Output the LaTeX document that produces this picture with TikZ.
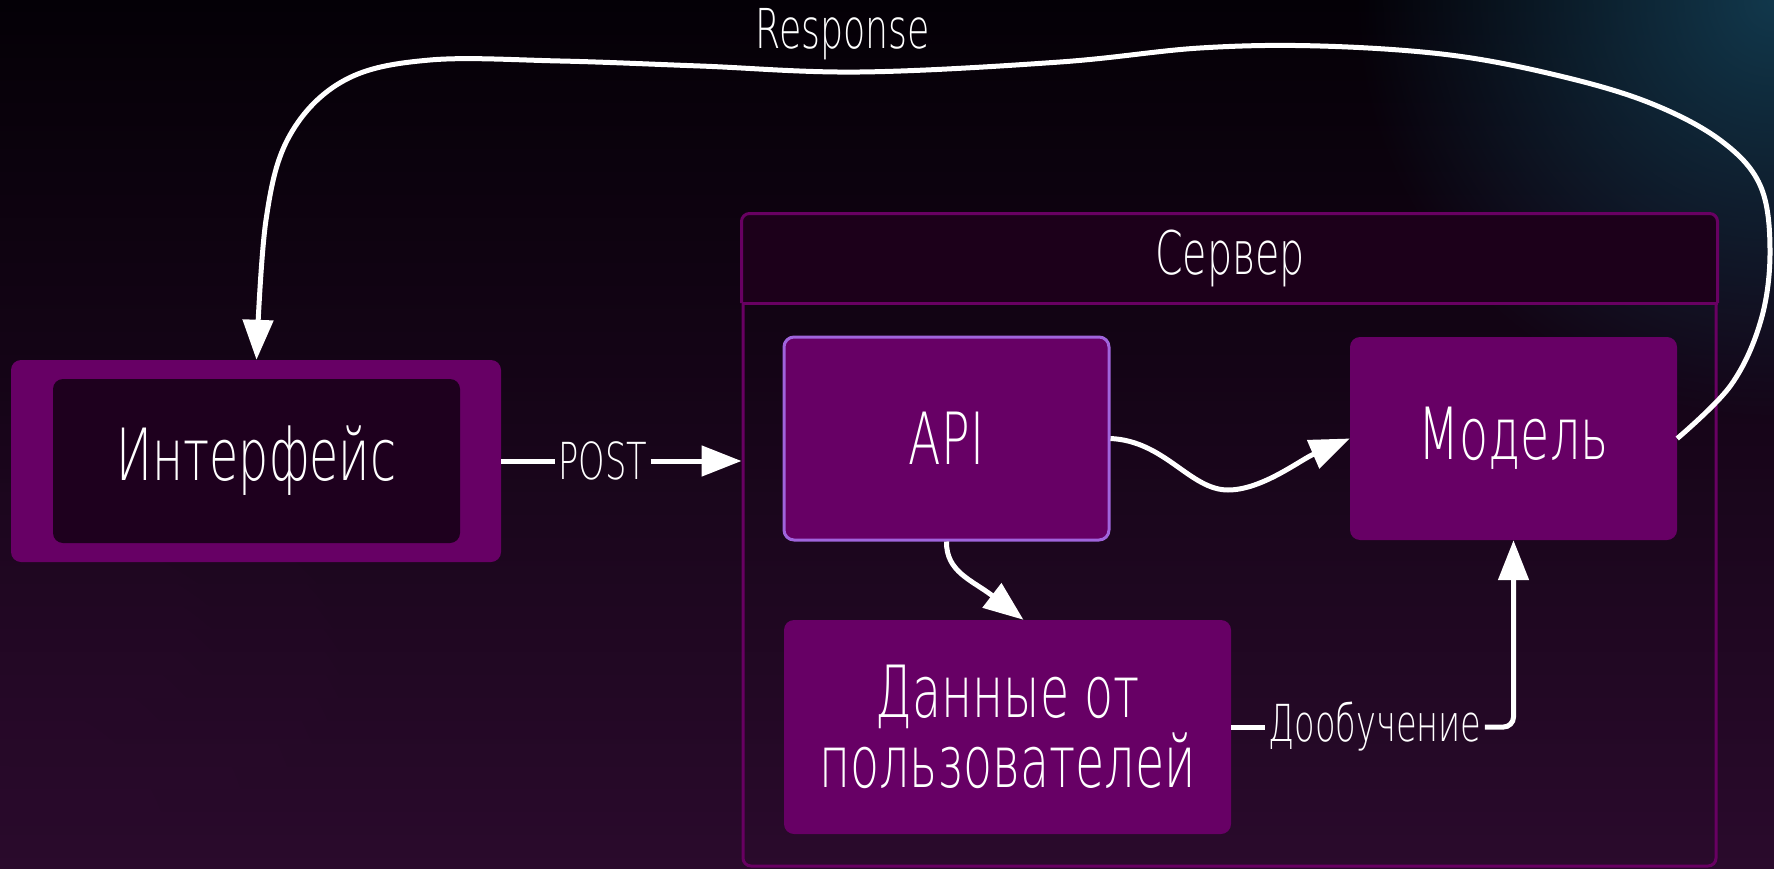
\documentclass[tikz,border=0pt]{standalone}
\usepackage{fontspec}
\IfFontExistsTF{DejaVuSans-ExtraLight.ttf}
 {\setmainfont{DejaVuSans-ExtraLight.ttf}[FakeStretch=0.66]}
 {\setmainfont{DejaVu Sans}[FakeStretch=0.66]}
\usetikzlibrary{arrows.meta,calc,fadings}
\tikzfading[name=softglow, inner color=transparent!0, outer color=transparent!100]
\definecolor{boxfill}{RGB}{103,0,101}
\definecolor{innerdark}{RGB}{30,0,30}
\definecolor{apiborder}{RGB}{160,100,220}
\definecolor{srvstroke}{RGB}{104,0,98}
\definecolor{bandfill}{RGB}{28,0,26}
\definecolor{bgtop}{RGB}{4,0,6}
\definecolor{bgbot}{RGB}{42,10,44}
\definecolor{glow}{RGB}{18,56,76}
\begin{document}
\begin{tikzpicture}[x=1pt,y=-1pt,
  box/.style={fill=boxfill, rounded corners=10pt, text=white, align=center,
              font=\fontsize{72}{70}\selectfont, inner sep=0pt},
  ln/.style={draw=white, line width=5pt},
  arr/.style={ln, -{Triangle[length=40pt,width=30pt]}},
  lbl/.style={text=white, inner sep=3pt, font=\fontsize{51}{54}\selectfont}]
\useasboundingbox (0,0) rectangle (1774,869);
% background
\begin{scope}
\clip (0,0) rectangle (1774,869);
\shade[top color=bgtop, bottom color=bgbot] (0,0) rectangle (1774,869);
\fill[glow, path fading=softglow] (1774,0) circle (420);
\fill[bgbot, opacity=0.5, path fading=softglow] (0,869) circle (500);
\end{scope}

% interface
\node[box, minimum width=490pt, minimum height=202pt] (ifaceout) at (256,461) {};
\node[fill=innerdark, rounded corners=10pt, minimum width=407pt, minimum height=164pt,
      text=white, font=\fontsize{72}{76}\selectfont] (iface) at (256.5,461) {Интерфейс};

% server container
\node[draw=srvstroke, line width=3pt, rounded corners=8pt, minimum width=973pt,
      minimum height=651pt, inner sep=0pt] (server) at (1229.5,540.5) {};
\fill[bandfill] (server.west |- 0,303) [rounded corners=8pt] -- (server.north west)
   -- (server.north east) [sharp corners] -- (server.east |- 0,303) -- cycle;
\draw[srvstroke, line width=3pt, rounded corners=8pt] (server.west |- 0,303) -- (server.north west)
   -- (server.north east) -- (server.east |- 0,303);
\draw[srvstroke, line width=3pt] (server.west |- 0,303) -- (server.east |- 0,303);
\node[text=white, font=\fontsize{60}{64}\selectfont] (srvtitle) at (1230,258) {Сервер};

% inner boxes
\node[box, draw=apiborder, line width=3pt, minimum width=325pt, minimum height=203pt] (api) at (946.5,438.5) {API};
\node[box, minimum width=327pt, minimum height=203pt] (model) at (1513.5,438.5) {Модель};
\node[box, minimum width=447pt, minimum height=214pt] (data) at (1007.5,727) {Данные от\\пользователей};

% POST
\node[lbl] (post) at (603,461) {POST};
\draw[ln] (ifaceout.east) -- (post.west);
\draw[arr] (post.east) -- (server.west |- post.east);

% API -> Model
\draw[arr] (api.east) .. controls (1165,441) and (1190,490) .. (1228,490)
   .. controls (1262,490) and (1300,460) .. (model.west);

% API -> Data
\draw[arr] (api.south) .. controls (946,572) and (972,580) .. ($(data.north)+(16,0)$);

% Data -> Model
\node[lbl] (dob) at (1375,727) {Дообучение};
\draw[ln] (data.east) -- (dob.west);
\draw[arr, rounded corners=10pt] (dob.east) -| (model.south);

% Response
\node[lbl, font=\fontsize{55}{58}\selectfont] (resp) at (843,34) {Response};
\draw[arr] plot[smooth, tension=0.6] coordinates {(model.east) (1731,385) (1761,320)
  (1770,250) (1760,185) (1720,140) (1650,103) (1560,76) (1450,55) (1320,46) (1200,48)
  (1060,62) (860,72) (700,66) (560,61) (430,60) (345,80) (290,135) (266,220)
  (iface.north |- ifaceout.north)};
\end{tikzpicture}
\end{document}
